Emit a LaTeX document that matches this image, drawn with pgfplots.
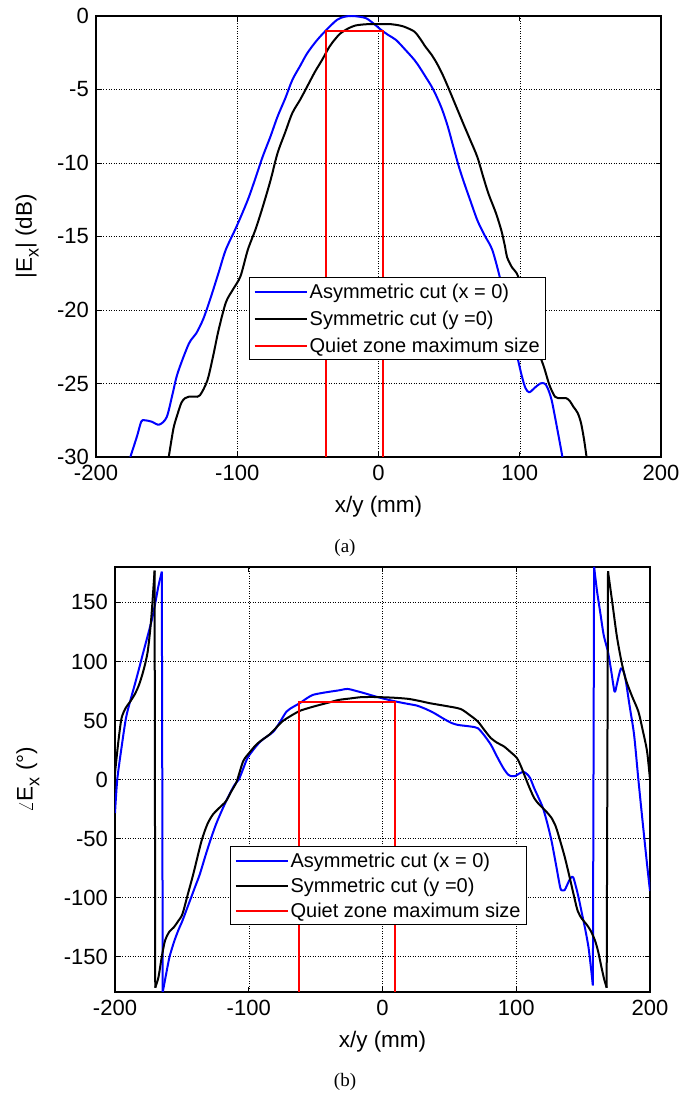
\documentclass[border=0pt]{standalone}
\usepackage{pgfplots}
\pgfplotsset{compat=1.18}
\usepackage{fontspec}
\setmainfont{Liberation Sans}
\newfontfamily\capfont{Liberation Serif}
\newcommand{\subx}{\raisebox{-0.3em}{\fontsize{18}{20}\selectfont x}}
\begin{document}
\begin{tikzpicture}
\useasboundingbox (0pt,0pt) rectangle (681pt,1097pt);
\pgfplotsset{
  mystyle/.style={
    scale only axis,
    xmin=-200, xmax=200,
    xtick={-200,-100,0,100,200},
    tick align=inside,
    major tick length=5pt,
    tick style={black, line width=0.6pt},
    axis line style={line width=1.1pt},
    grid=major,
    major grid style={black, line width=0.5pt, dash pattern=on 1pt off 1.5pt},
    /pgf/number format/assume math mode=true,
    tick label style={font=\fontsize{22}{26}\selectfont},
    xticklabel style={anchor=north, inner sep=0pt, yshift=-8pt},
    yticklabel style={anchor=east, inner sep=0pt, xshift=-7pt},
    every axis x label/.style={at={(axis description cs:0.5,0)}, anchor=north, inner sep=0pt, yshift=-39pt, font=\fontsize{22.5}{26}\selectfont},
    legend style={draw=black, line width=1.1pt, fill=white, font=\fontsize{20}{23}\selectfont, row sep=7pt, inner xsep=4pt, inner ysep=4pt, cells={anchor=west}},
    legend image code/.code={\draw[##1, line width=2pt] (0pt,0pt) -- (52pt,0pt);},
    clip=true,
  },
  bl/.style={color={rgb,255:red,0;green,0;blue,255}, line width=2pt, line join=round},
  bk/.style={black, line width=2pt, line join=round},
  rd/.style={color={rgb,255:red,255;green,0;blue,0}, line width=2pt, line join=miter},
}
% Top axis
\begin{axis}[mystyle,
  at={(96pt,640pt)}, anchor=south west,
  width=565pt, height=441pt,
  ymin=-30, ymax=0,
  ytick={-30,-25,-20,-15,-10,-5,0},
  xlabel={x/y (mm)},
  every axis y label/.style={at={(axis description cs:-0.122,0.5)}, rotate=90, anchor=center, font=\fontsize{22.5}{26}\selectfont},
  ylabel={|E\subx| (dB)},
  legend style={at={(0.271,0.408)}, anchor=north west},
]
\addplot[bl, smooth, tension=0.5] coordinates {(-175.7,-30) (-171,-28.6) (-168,-27.6) (-165.7,-27.5) (-160.5,-27.6) (-155.3,-27.8) (-150,-27.3) (-146,-25.8) (-142.2,-24.3) (-134.3,-22.3) (-129.1,-21.6) (-124,-20.6) (-118.6,-19.1) (-113,-17.4) (-108.1,-15.9) (-100.4,-14.3) (-92.5,-12.5) (-87,-11.0) (-82,-9.57) (-76.5,-8.2) (-71.5,-6.85) (-66,-5.6) (-61,-4.35) (-55.5,-3.4) (-50.5,-2.54) (-44,-1.7) (-37.4,-1.0) (-29.5,-0.27) (-24,-0.05) (-19,0) (-13.5,-0.05) (-8.6,-0.16) (-3,-0.55) (1.9,-0.95) (7,-1.3) (12.4,-1.63) (19,-2.3) (25.5,-3.0) (29.5,-3.55) (33.3,-4.13) (37.3,-4.75) (41.2,-5.49) (45.2,-6.4) (49.1,-7.53) (53,-8.9) (56.9,-10.25) (60.8,-11.4) (64.8,-12.5) (70,-13.9) (75,-14.9) (80.5,-15.9) (85.7,-17.7) (89.7,-19.4) (93.6,-21.1) (98.8,-23.4) (101.5,-24.5) (104,-25.3) (106.7,-25.6) (110.5,-25.3) (114.5,-25.0) (117.5,-25.0) (119.7,-25.3) (122.5,-26.1) (125,-27.3) (128.9,-29.3) (130.2,-30)};
\addlegendentry{Asymmetric cut (x = 0)}
\addplot[bk, smooth, tension=0.5] coordinates {(-148.5,-30) (-146.5,-28.8) (-144.8,-27.9) (-142,-27.0) (-139.5,-26.3) (-137,-26.0) (-134.3,-25.9) (-130,-25.9) (-126.4,-25.8) (-121.2,-24.8) (-117,-23.1) (-113.3,-21.4) (-108.1,-19.5) (-103,-18.6) (-97.7,-17.7) (-92.5,-15.9) (-87,-14.5) (-82,-13.0) (-76.5,-11.2) (-71.5,-9.34) (-66,-7.9) (-61,-6.6) (-55.5,-5.7) (-50.5,-4.8) (-45,-3.8) (-40,-3.0) (-34.8,-2.1) (-30.5,-1.55) (-26.9,-1.18) (-21.5,-0.85) (-16.4,-0.65) (-10,-0.57) (-5,-0.55) (0,-0.55) (5,-0.55) (9,-0.56) (12.4,-0.6) (16.5,-0.68) (20,-0.8) (25.5,-1.07) (29.5,-1.55) (33.3,-2.1) (37.3,-2.6) (41.2,-3.2) (45.2,-3.95) (49.1,-4.8) (53,-5.7) (56.9,-6.6) (60.8,-7.5) (64.8,-8.4) (70,-9.6) (74,-10.9) (77.9,-12.1) (83.1,-13.4) (87,-14.6) (89.6,-15.7) (91,-16.4) (94.5,-17.1) (98.8,-17.7) (104,-19.6) (109.3,-21.6) (113.5,-22.9) (117.2,-23.9) (121,-25.1) (125,-25.9) (129,-26.0) (132.9,-26.0) (135.5,-26.2) (138.1,-26.6) (141,-27.0) (143.4,-27.7) (145.5,-28.8) (147.3,-30)};
\addlegendentry{Symmetric cut (y =0)}
\addplot[rd] coordinates {(-37,-30) (-37,-1) (3,-1) (3,-30)};
\addlegendentry{Quiet zone maximum size}
\end{axis}
\node[font=\capfont\fontsize{19}{22}\selectfont] at (345pt,549pt) {(a)};
% Bottom axis
\begin{axis}[mystyle,
  at={(115pt,105pt)}, anchor=south west,
  width=535pt, height=425pt,
  ymin=-180, ymax=180,
  ytick={-150,-100,-50,0,50,100,150},
  xlabel={x/y (mm)},
  every axis y label/.style={at={(axis description cs:-0.163,0.5)}, rotate=90, anchor=center, font=\fontsize{22.5}{26}\selectfont},
  ylabel={$\angle$E\subx{} (°)},
  legend style={at={(0.215,0.343)}, anchor=north west, row sep=5pt},
]
% blue: Asymmetric cut
\addplot[bl, smooth, tension=0.45] coordinates {(-200,-28.4) (-198.3,0) (-195,28) (-191.8,52) (-188.5,67) (-185.3,80) (-182,94) (-178.8,108) (-175.5,122) (-172.3,136) (-169.8,150) (-167.5,164) (-165,176)};
\addlegendentry{Asymmetric cut (x = 0)}
\addplot[bk, smooth, tension=0.45] coordinates {(-200,5.6) (-197.5,32) (-195.1,52) (-191.8,61) (-188.6,66) (-185.3,72) (-182.1,80) (-178.8,92) (-175.6,108) (-173,135) (-170.4,177)};
\addlegendentry{Symmetric cut (y =0)}
\addplot[rd] coordinates {(-62.5,-180) (-62.5,65.5) (9,65.5) (9,-180)};
\addlegendentry{Quiet zone maximum size}
\addplot[bl, forget plot] coordinates {(-165,176) (-164.3,-180)};
\addplot[bl, smooth, tension=0.45, forget plot] coordinates {(-164.3,-180) (-161.8,-165) (-159.3,-150.6) (-156,-138) (-152.8,-128.1) (-149.6,-119.7) (-146.4,-110) (-143.1,-100) (-139.8,-90) (-136.6,-80.3) (-132.5,-65) (-128.5,-50.8) (-124.5,-38) (-120.4,-27) (-115.5,-15) (-110.6,-4.5) (-107.4,0) (-104.2,9) (-100.9,18.3) (-96,26) (-91.2,32.3) (-86.3,36.5) (-81.4,40.7) (-76.5,49) (-71.7,57.6) (-66.8,61.5) (-61.9,64.6) (-57,68.5) (-52.2,71.6) (-45.7,73.2) (-39.2,74.4) (-32.7,75.5) (-26.2,76.7) (-19.7,75) (-13.2,73) (-6.7,70.8) (-0.2,68.8) (6.3,67) (12.8,65.4) (19.2,64) (25.7,62.6) (32.2,59.8) (38.7,56.2) (45.2,51.8) (51.7,47.8) (56.6,46.2) (61.5,45.5) (66.4,44.8) (71.2,43.5) (76,37.5) (81,29.5) (84.2,22.5) (87.5,15.4) (90.7,9) (93.9,4.2) (96.4,2.8) (98.9,2.8) (102.2,5) (105.4,6.5) (107.8,4.8) (110.3,1.4) (113.4,-7.3) (116.7,-15.5) (120,-24.2) (123.2,-37) (126.4,-52.2) (129.7,-72) (132.9,-91.6) (134.5,-94) (136.1,-93.8) (137.8,-90) (139.4,-86) (141,-83) (142.7,-83.1) (146,-97) (149.2,-114) (151.6,-127) (154,-142) (155.7,-158) (157.3,-174.4)};
\addplot[bl, forget plot] coordinates {(157.3,-174.4) (158.2,180)};
\addplot[bl, smooth, tension=0.45, forget plot] coordinates {(158.2,180) (160.5,158.7) (163,140) (165.4,122.2) (168.6,108) (171,92) (173.5,74.4) (175.1,80) (176.7,88) (178.3,94.1) (180,92) (181.6,85.7) (184.8,62) (188.1,37.9) (191.3,0) (194.5,-36) (197.8,-71.9) (200,-94.4)};
% black: Symmetric cut
\addplot[bk, forget plot] coordinates {(-170.4,177) (-169.9,-176.4)};
\addplot[bk, smooth, tension=0.45, forget plot] coordinates {(-169.9,-176.4) (-167.5,-167.4) (-165,-150) (-162.6,-136.5) (-159.4,-129) (-156.1,-125.3) (-152.8,-120) (-149.6,-114) (-145.5,-97) (-141.5,-80.3) (-138.2,-65) (-135,-50.8) (-131,-38) (-126.9,-29.8) (-122,-24) (-117.1,-18.5) (-113,-10) (-109,-1.7) (-104.2,15.4) (-99.3,23) (-94.4,29.5) (-89.5,34) (-84.7,37.9) (-79.8,43.5) (-74.9,49.2) (-68.4,54) (-61.9,58.1) (-55.4,60.5) (-48.9,62.6) (-40.8,65) (-32.7,67.4) (-24.5,68.6) (-16.4,69.7) (-8.3,69.9) (-0.2,69.7) (9.5,69.2) (19.3,68.3) (27.4,66.6) (35.5,64.6) (46.8,62.4) (58.2,59.8) (64.7,55) (71.2,49.2) (76.1,42) (81,35.1) (85.9,31) (90.7,28.1) (95.5,23.5) (100.4,18.3) (103.6,11) (106.9,1.4) (110.1,-7.5) (113.4,-15.7) (116.6,-20.5) (119.9,-24.2) (123.1,-28) (126.4,-32.6) (129.6,-40) (132.9,-52.2) (136.1,-65) (139.4,-80.3) (142.6,-96) (145.9,-111.2) (149.1,-118) (152.4,-122.5) (155.6,-128) (158.9,-136.5) (161.3,-146) (163.7,-159) (165.7,-169) (167.6,-176.4)};
\addplot[bk, forget plot] coordinates {(167.6,-176.4) (168.6,176.4)};
\addplot[bk, smooth, tension=0.45, forget plot] coordinates {(168.6,176.4) (171.8,150) (175.1,122.2) (178.3,102) (181.6,85.7) (186.4,71) (191.3,57.6) (194.5,42) (197.8,23.9) (200,0)};
% red drawn on top again
\addplot[rd, forget plot] coordinates {(-62.5,-180) (-62.5,65.5) (9,65.5) (9,-180)};
\end{axis}
\node[font=\capfont\fontsize{19}{22}\selectfont] at (345pt,15pt) {(b)};
\end{tikzpicture}
\end{document}
